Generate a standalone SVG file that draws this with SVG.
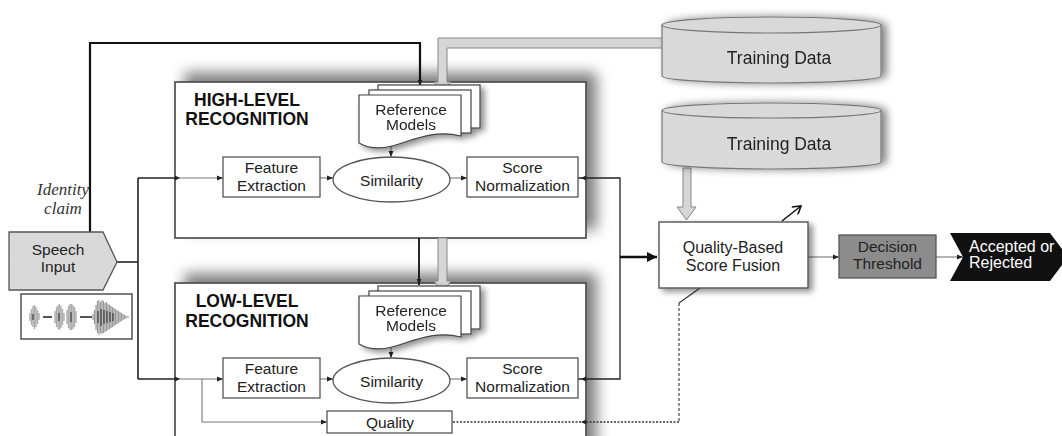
<svg xmlns="http://www.w3.org/2000/svg" width="1062" height="436" viewBox="0 0 1062 436">
<defs>
<style>
.t{font-family:"Liberation Sans",Arial,sans-serif;font-size:15.5px;fill:#222;text-anchor:middle}
.hd{font-family:"Liberation Sans",Arial,sans-serif;font-size:17.5px;font-weight:bold;fill:#111;text-anchor:middle}
.it{font-family:"Liberation Serif","Times New Roman",serif;font-style:italic;font-size:17px;fill:#333;text-anchor:middle}
.box{fill:#fff;stroke:#555;stroke-width:1.3}
.big{fill:#fff;stroke:#444;stroke-width:1.6}
.thin{fill:none;stroke:#777;stroke-width:1.1}
.dark{fill:none;stroke:#222;stroke-width:1.6}
.cyl{fill:#d9d9d9;stroke:#777;stroke-width:1.2}
.garrow{fill:#d6d6d6;stroke:#888;stroke-width:1}
.port{fill:#222}
</style>
<marker id="ah" viewBox="0 0 10 10" refX="10" refY="5" markerWidth="6" markerHeight="6" markerUnits="userSpaceOnUse" orient="auto"><path d="M0,1 L10,5 L0,9 Z" fill="#222"/></marker>
<marker id="ahb" viewBox="0 0 10 10" refX="10" refY="5" markerWidth="11" markerHeight="10" markerUnits="userSpaceOnUse" orient="auto"><path d="M0,0 L10,5 L0,10 Z" fill="#111"/></marker>
<marker id="aho" viewBox="0 0 10 10" refX="9" refY="5" markerWidth="10" markerHeight="10" markerUnits="userSpaceOnUse" orient="auto"><path d="M1,0 L9,5 L1,10" fill="none" stroke="#111" stroke-width="1.6"/></marker>
<filter id="shBox" x="-10%" y="-30%" width="125%" height="140%">
<feGaussianBlur in="SourceAlpha" stdDeviation="7"/>
<feOffset dx="10" dy="-9" result="o"/>
<feComponentTransfer><feFuncA type="linear" slope="0.5"/></feComponentTransfer>
<feMerge><feMergeNode/><feMergeNode in="SourceGraphic"/></feMerge>
</filter>
<filter id="shSm" x="-20%" y="-20%" width="140%" height="150%">
<feGaussianBlur in="SourceAlpha" stdDeviation="3"/>
<feOffset dx="4" dy="3"/>
<feComponentTransfer><feFuncA type="linear" slope="0.45"/></feComponentTransfer>
<feMerge><feMergeNode/><feMergeNode in="SourceGraphic"/></feMerge>
</filter>
<filter id="shCyl" x="-10%" y="-20%" width="125%" height="150%">
<feGaussianBlur in="SourceAlpha" stdDeviation="4"/>
<feOffset dx="5" dy="0"/>
<feComponentTransfer><feFuncA type="linear" slope="0.5"/></feComponentTransfer>
<feMerge><feMergeNode/><feMergeNode in="SourceGraphic"/></feMerge>
</filter>
<g id="refm">
<rect x="378" y="85" width="102" height="43" fill="#fff" stroke="#444" stroke-width="1.2"/>
<rect x="369" y="90" width="102" height="43" fill="#fff" stroke="#444" stroke-width="1.2"/>
<path d="M359,95 H461 V136 C432,129 412,141 392,146 C377,150 366,147 359,143 Z" fill="#fff" stroke="#444" stroke-width="1.2"/>
</g>
</defs>
<rect width="1062" height="436" fill="#fff"/>

<!-- recognition containers -->
<g id="high-level">
<rect class="big" x="175" y="82" width="411" height="156" filter="url(#shBox)"/>
<text class="hd" x="247" y="106">HIGH-LEVEL</text>
<text class="hd" x="247" y="125">RECOGNITION</text>
</g>
<g id="low-level">
<rect class="big" x="175" y="283" width="411" height="200" filter="url(#shBox)"/>
<text class="hd" x="247" y="307">LOW-LEVEL</text>
<text class="hd" x="247" y="327">RECOGNITION</text>
</g>

<!-- connectors -->
<g id="connectors">
<path d="M90,232 V43 H420 V86" fill="none" stroke="#111" stroke-width="2.2" marker-end="url(#ah)"/>
<path class="garrow" d="M667,38 H438 V82 H434 L442.5,93 L451,82 H447 V48 H667 Z"/>
<path d="M419,238 V285" fill="none" stroke="#111" stroke-width="1.8" marker-end="url(#ah)"/>
<path class="garrow" d="M438,238 V281 H434 L442.5,293 L451,281 H447 V238 Z"/>
<path class="garrow" d="M683,168 V207 H677 L686.5,220 L696,207 H691 V168 Z"/>
<path d="M117,262 H138" class="dark"/>
<path d="M138,178 V379" class="dark"/>
<path d="M138,178 H175" class="dark"/>
<path d="M138,379 H175" class="dark"/>
<path d="M175,178 H223" class="thin" marker-end="url(#ah)"/>
<path d="M175,379 H223" class="thin" marker-end="url(#ah)"/>
<path d="M202,379 V422 H327" class="thin" marker-end="url(#ah)"/>
<path d="M320,178 H333" class="thin" marker-end="url(#ah)"/>
<path d="M320,379 H333" class="thin" marker-end="url(#ah)"/>
<path d="M450,178 H467" class="thin" marker-end="url(#ah)"/>
<path d="M450,379 H467" class="thin" marker-end="url(#ah)"/>
<path d="M391,143 V157" class="thin" marker-end="url(#ah)"/>
<path d="M391,344 V358" class="thin" marker-end="url(#ah)"/>
<path d="M578,178 H620 V379 H578" fill="none" stroke="#222" stroke-width="1.3"/>
<path d="M620,257 H657" fill="none" stroke="#111" stroke-width="2.6" marker-end="url(#ahb)"/>
<path d="M808,257 H839" class="thin" stroke="#333" marker-end="url(#ah)"/>
<path d="M936,257 H963" class="thin" stroke="#333" marker-end="url(#ah)"/>
<path d="M782,221 L801,206" fill="none" stroke="#111" stroke-width="1.5" marker-end="url(#aho)"/>
<path d="M700,288 L679,303" fill="none" stroke="#333" stroke-width="1.1"/>
<path d="M679,303 V422" fill="none" stroke="#444" stroke-width="1.2" stroke-dasharray="3,2"/>
<path d="M679,422 H452" fill="none" stroke="#333" stroke-width="1.3" stroke-dasharray="2,1.5"/>
<path class="port" d="M175,175.5 L180,178 L175,180.5 Z"/>
<path class="port" d="M175,376.5 L180,379 L175,381.5 Z"/>
<path class="port" d="M586,175.5 L581,178 L586,180.5 Z"/>
<path class="port" d="M586,376.5 L581,379 L586,381.5 Z"/>
<path class="port" d="M586,419.5 L581,422 L586,424.5 Z"/>
</g>

<!-- nodes -->
<g id="speech-input">
<path d="M9,232 H103 L117,262 L103,290 H9 Z" fill="#d9d9d9" stroke="#555" stroke-width="1.3"/>
<text class="t" x="58" y="255">Speech</text>
<text class="t" x="58" y="272">Input</text>
</g>
<g id="waveform">
<rect x="21" y="294" width="111" height="45" fill="#fff" stroke="#444" stroke-width="1.4"/>
<path stroke="#aaa" stroke-width="1.3" fill="none" d="M30,313 V321 M31.5,309 V325 M33,306 V327 M34.5,305 V329 M36,307 V327 M37.5,310 V324 M39,313 V320
M55,311 V323 M56.5,307 V327 M58,305 V329 M59.5,304 V330 M61,306 V328 M62.5,309 V325 M64,313 V321
M67,310 V324 M68.5,306 V328 M70,304 V330 M71.5,304 V330 M73,305 V329 M74.5,307 V327 M76,311 V323"/>
<path stroke="#555" stroke-width="2" fill="none" d="M43,317 H52 M80,317 H92"/>
<path stroke="#999" stroke-width="1.2" fill="none" d="M93,314 V320 M94.5,310 V324 M96,305 V330 M97.5,301 V333 M99,300 V335 M100.5,302 V333 M102,300 V334 M103.5,301 V333 M105,303 V332 M106.5,302 V331 M108,304 V330 M109.5,305 V329 M111,306 V328 M112.5,307 V327 M114,308 V326 M115.5,309 V325 M117,310 V324 M118.5,311 V323 M120,312 V322 M121.5,313 V321 M123,314 V320 M124.5,315 V319 M126,315.5 V318.5 M128,316 V318"/>
<path stroke="#444" stroke-width="1.3" fill="none" d="M33,314 V320 M59,313 V321 M71,312 V322 M98,311 V323 M101,309 V326 M104,310 V324 M107,311 V323 M110,312 V322 M113,313 V321"/>
</g>
<g id="identity-claim">
<text class="it" x="63" y="195">Identity</text>
<text class="it" x="63" y="214">claim</text>
</g>

<g id="hl-feature"><rect class="box" x="223" y="157" width="97" height="40"/><text class="t" x="271.5" y="173">Feature</text><text class="t" x="271.5" y="191">Extraction</text></g>
<g id="hl-similarity"><ellipse class="box" cx="391.5" cy="179.5" rx="58.5" ry="22.5"/><text class="t" x="391.5" y="185.5">Similarity</text></g>
<g id="hl-scorenorm"><rect class="box" x="467" y="157" width="111" height="40"/><text class="t" x="522.5" y="173">Score</text><text class="t" x="522.5" y="191">Normalization</text></g>
<g id="hl-refmodels" filter="url(#shSm)"><use href="#refm"/><text class="t" x="411" y="115">Reference</text><text class="t" x="411" y="130">Models</text></g>

<g id="ll-feature"><rect class="box" x="223" y="358" width="97" height="40"/><text class="t" x="271.5" y="374">Feature</text><text class="t" x="271.5" y="392">Extraction</text></g>
<g id="ll-similarity"><ellipse class="box" cx="391.5" cy="380.5" rx="58.5" ry="22.5"/><text class="t" x="391.5" y="386.5">Similarity</text></g>
<g id="ll-scorenorm"><rect class="box" x="467" y="358" width="111" height="40"/><text class="t" x="522.5" y="374">Score</text><text class="t" x="522.5" y="392">Normalization</text></g>
<g id="ll-refmodels" filter="url(#shSm)"><use href="#refm" transform="translate(0,201)"/><text class="t" x="411" y="316">Reference</text><text class="t" x="411" y="331">Models</text></g>
<g id="ll-quality"><rect class="box" x="327" y="411" width="125" height="22"/><text class="t" x="390" y="428">Quality</text></g>

<g id="training-data-1" filter="url(#shCyl)">
<path class="cyl" d="M662,25 V76 A109.5,7 0 0 0 881,76 V25"/>
<ellipse class="cyl" cx="771.5" cy="25" rx="109.5" ry="8"/>
<text class="t" x="779" y="64" style="font-size:17.5px">Training Data</text>
</g>
<g id="training-data-2" filter="url(#shCyl)">
<path class="cyl" d="M662,110.5 V162 A109.5,7 0 0 0 881,162 V110.5"/>
<ellipse class="cyl" cx="771.5" cy="110.5" rx="109.5" ry="7.5"/>
<text class="t" x="779" y="150" style="font-size:17.5px">Training Data</text>
</g>
<g id="fusion"><rect x="659" y="222" width="149" height="66" fill="#fff" stroke="#555" stroke-width="1.4" filter="url(#shSm)"/><text class="t" x="733" y="253" style="font-size:16px">Quality-Based</text><text class="t" x="733" y="271" style="font-size:16px">Score Fusion</text></g>
<g id="decision"><rect x="839" y="235" width="97" height="43" fill="#8c8c8c" stroke="#555" stroke-width="1.3"/><text class="t" x="887.5" y="252">Decision</text><text class="t" x="887.5" y="269">Threshold</text></g>
<g id="result"><path d="M950,233 H1050 L1068,257 L1050,281 H950 L963,257 Z" fill="#111"/><text class="t" x="969" y="252" style="text-anchor:start;fill:#fff;font-size:16px">Accepted or</text><text class="t" x="969" y="268" style="text-anchor:start;fill:#fff;font-size:16px">Rejected</text></g>
</svg>
